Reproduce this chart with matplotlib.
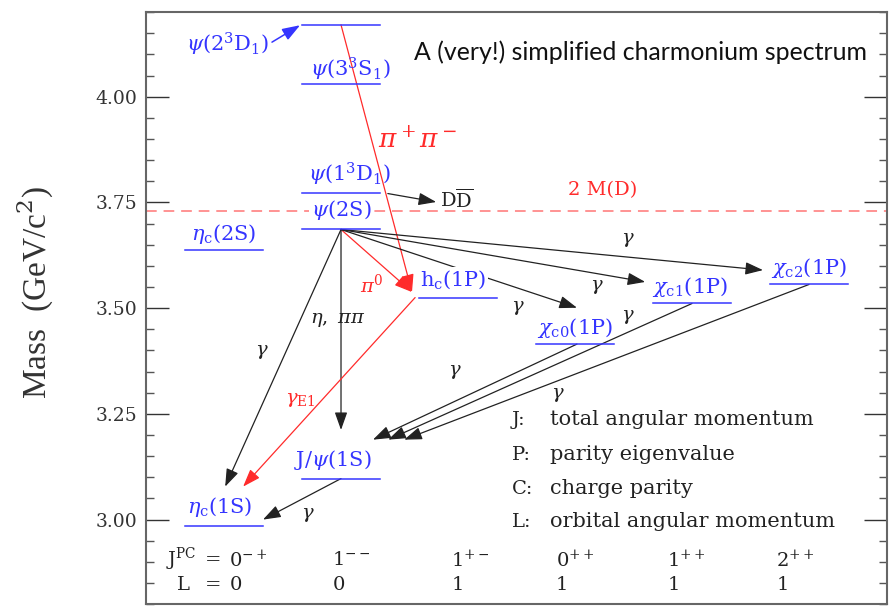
import matplotlib.pyplot as plt
from matplotlib.patches import FancyArrowPatch
from matplotlib.ticker import MultipleLocator, FormatStrFormatter

plt.rcParams['font.family'] = ['DejaVu Serif']
plt.rcParams['mathtext.fontset'] = 'dejavuserif'

BLUE = '#3535ff'
RED = '#ff2b2b'
DASH_RED = '#ff7575'
INK = '#222222'

# charmonium states: J^PC column (0..5) and mass in GeV/c^2
state_keys = ['etac1S', 'jpsi', 'etac2S', 'psi2S', 'psi3770', 'psi4040',
              'psi4160', 'hc', 'chic0', 'chic1', 'chic2']
state_column = [0, 1, 0, 1, 1, 1, 1, 2, 3, 4, 5]
state_mass = [2.984, 3.097, 3.638, 3.686, 3.773, 4.030, 4.170,
              3.525, 3.415, 3.511, 3.556]
state_label = [r'$\eta_\mathrm{c}(1\mathrm{S})$', r'$\mathrm{J}/\psi(1\mathrm{S})$',
               r'$\eta_\mathrm{c}(2\mathrm{S})$', r'$\psi(2\mathrm{S})$',
               r'$\psi(1^3\mathrm{D}_1)$', r'$\psi(3^3\mathrm{S}_1)$',
               r'$\psi(2^3\mathrm{D}_1)$', r'$\mathrm{h_c(1P)}$',
               r'$\chi_\mathrm{c0}(1\mathrm{P})$', r'$\chi_\mathrm{c1}(1\mathrm{P})$',
               r'$\chi_\mathrm{c2}(1\mathrm{P})$']

# open-charm threshold 2 M(D)
two_md = 3.730

# quantum numbers per column
jpc_values = [r'$0^{-+}$', r'$1^{--}$', r'$1^{+-}$', r'$0^{++}$', r'$1^{++}$', r'$2^{++}$']
l_values = ['0', '0', '1', '1', '1', '1']

# transitions: initial state, final state, colour
trans_from = ['psi4160', 'psi2S', 'psi2S', 'psi2S', 'psi2S', 'psi2S', 'psi2S',
              'hc', 'jpsi', 'chic0', 'chic1', 'chic2']
trans_to = ['hc', 'hc', 'chic2', 'chic1', 'chic0', 'jpsi', 'etac1S',
            'etac1S', 'etac1S', 'jpsi', 'jpsi', 'jpsi']
trans_color = [RED, RED, INK, INK, INK, INK, INK, RED, INK, INK, INK, INK]

# ---- layout -------------------------------------------------------------
col_x0, col_step, half_w = 2.0, 3.0, 1.0
label_dx = [-0.1, -0.2, 0.0, 0.0, 0.23, 0.25, -2.9, -0.13, 0.0, -0.05, 0.0]
label_dy = [0.045, 0.045, 0.038, 0.045, 0.043, 0.035, -0.047, 0.042, 0.038, 0.040, 0.038]
label_boxed = {'psi2S', 'hc'}
# arrow start offset from initial level centre, end offset from final level centre
trans_start = [(0, 0), (0, 0), (0, 0), (0, 0), (0, 0), (0, 0), (0, 0),
               (-1.1, 0), (0, 0), (0.05, 0), (0, 0), (0, 0)]
trans_end = [(-1.18, 0.013), (-1.18, 0.013), (-1.18, 0.034), (-1.2, 0.051),
             (0.05, 0.086), (0, 0.115), (0.03, 0.094), (0.49, 0.094),
             (1.0, 0.016), (0.82, 0.092), (1.21, 0.092), (1.62, 0.092)]
gamma_x = [12.36, 11.56, 9.54, 12.36, 7.92, 10.56, 2.97, 4.15]
gamma_m = [3.661, 3.550, 3.500, 3.479, 3.349, 3.295, 3.397, 3.011]
qn_x = [2.28, 4.92, 7.97, 10.64, 13.51, 16.30]

level = {k: (col_x0 + col_step * c, m) for k, c, m in zip(state_keys, state_column, state_mass)}

fig = plt.figure(figsize=(8.93, 6.06), dpi=100)
ax = fig.add_axes([0.1635, 0.003, 0.8298, 0.977])
ax.set_xlim(0, 19)
ax.set_ylim(2.8, 4.2)


def arrow(p0, p1, color, lw=0.9):
    ax.add_patch(FancyArrowPatch(p0, p1, arrowstyle='-|>,head_length=0.9,head_width=0.32',
                                 mutation_scale=12, color=color, lw=lw,
                                 shrinkA=0, shrinkB=0, zorder=2))


# threshold line
ax.axhline(two_md, color=DASH_RED, lw=1.1, dashes=(7, 4.5), zorder=1)
ax.text(11.7, 3.779, '2 M(D)', color=RED, fontsize=14, ha='center', va='center')

# levels and names
for k, lab, dx, dy in zip(state_keys, state_label, label_dx, label_dy):
    x, m = level[k]
    ax.plot([x - half_w, x + half_w], [m, m], color=BLUE, lw=1.1, zorder=3)
    box = dict(facecolor='white', edgecolor='none', pad=1) if k in label_boxed else None
    ax.text(x + dx, m + dy, lab, color=BLUE, fontsize=15, ha='center', va='center',
            bbox=box, zorder=4 if box else 3)

# psi(2^3D_1) name sits off to the side with a pointer
x, m = level['psi4160']
arrow((x - 1.77, m - 0.041), (x - 1.05, m - 0.001), BLUE, lw=1.1)

# transitions
for a, b, c, s, e in zip(trans_from, trans_to, trans_color, trans_start, trans_end):
    xa, ma = level[a]
    xb, mb = level[b]
    arrow((xa + s[0], ma + s[1]), (xb + e[0], mb + e[1]), c)

# psi(3770) -> D Dbar
x, m = level['psi3770']
arrow((x + 1.2, m - 0.002), (x + 2.44, m - 0.022), INK)
ax.text(7.97, 3.756, r'$\mathrm{D\overline{D}}$', color=INK, fontsize=14, ha='center', va='center')

# transition labels
for gx, gm in zip(gamma_x, gamma_m):
    ax.text(gx, gm, r'$\gamma$', color=INK, fontsize=14, ha='center', va='center')
ax.text(6.97, 3.898, r'$\pi^+\pi^-$', color=RED, fontsize=19, ha='center', va='center')
ax.text(5.8, 3.555, r'$\pi^0$', color=RED, fontsize=14, ha='center', va='center')
ax.text(3.95, 3.283, r'$\gamma_\mathrm{E1}$', color=RED, fontsize=14, ha='center', va='center')
ax.text(4.92, 3.472, r'$\eta,\ \pi\pi$', color=INK, fontsize=14, ha='center', va='center')

ax.text(12.67, 4.105, 'A (very!) simplified charmonium spectrum', family='Lato',
        fontsize=17.9, color='#111111', ha='center', va='center')

# key to the quantum numbers
key_m = [3.236, 3.153, 3.073, 2.995]
key_sym = ['J:', 'P:', 'C:', 'L:']
key_txt = ['total angular momentum', 'parity eigenvalue', 'charge parity',
           'orbital angular momentum']
for km, s, t in zip(key_m, key_sym, key_txt):
    ax.text(9.38, km, s, color=INK, fontsize=14, ha='left', va='center')
    ax.text(10.36, km, t, color=INK, fontsize=15, ha='left', va='center')

# J^PC and L rows
ax.text(0.51, 2.905, r'$\mathrm{J^{PC}}$', color=INK, fontsize=14, ha='left', va='center')
ax.text(1.51, 2.905, '=', color=INK, fontsize=14, ha='left', va='center')
ax.text(0.79, 2.846, 'L', color=INK, fontsize=14, ha='left', va='center')
ax.text(1.51, 2.846, '=', color=INK, fontsize=14, ha='left', va='center')
for qx, j, l in zip(qn_x, jpc_values, l_values):
    ax.text(qx - 0.14, 2.905, j, color=INK, fontsize=14, ha='left', va='center')
    ax.text(qx - 0.14, 2.846, l, color=INK, fontsize=14, ha='left', va='center')

# axes styling
ax.set_xticks([])
ax.yaxis.set_major_locator(MultipleLocator(0.25))
ax.yaxis.set_minor_locator(MultipleLocator(0.05))
ax.yaxis.set_major_formatter(FormatStrFormatter('%.2f'))
ax.tick_params(axis='y', which='major', direction='in', length=16.5, width=1.0,
               right=True, color='#333333', labelcolor='#333333', labelsize=13.5, pad=6)
ax.tick_params(axis='y', which='minor', direction='in', length=6, width=1.0,
               right=True, color='#555555')
for sp in ax.spines.values():
    sp.set_color('#666666')
    sp.set_linewidth(1.5)

fig.text(35 / 893, 1 - 292 / 606, r'Mass  (GeV/c$^2$)', family='Liberation Serif',
         fontsize=24, color='#333333', rotation=90, ha='center', va='center')

fig.savefig('out.png', dpi=100)
